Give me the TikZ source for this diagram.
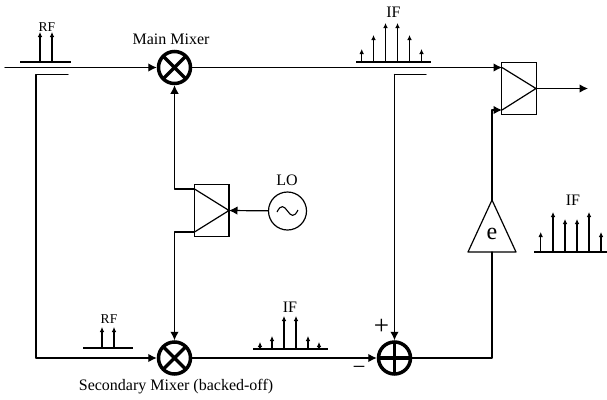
\documentclass[tikz,border=0pt]{standalone}
\usepackage{fontspec}
\setmainfont{Liberation Serif}
\usetikzlibrary{arrows.meta}
\tikzset{
  wire/.style={line width=1.2pt,line cap=round,line join=round},
  feed/.style={wire,-{Latex[length=8.5pt,width=8.5pt]}},
  tone/.style={line width=1.1pt,-{Latex[length=5pt,width=4.6pt]}},
  base/.style={line width=1.2pt},
  lbl/.style={inner sep=0pt,font=\fontsize{16}{16}\selectfont},
  lblsmall/.style={inner sep=0pt,font=\fontsize{13.5}{14}\selectfont},
  mixer/.style={circle,draw,line width=3.5pt,minimum size=32pt,inner sep=0pt,fill=white,
    path picture={\draw[line width=3.2pt] (path picture bounding box.north west)--(path picture bounding box.south east)
      (path picture bounding box.north east)--(path picture bounding box.south west);}},
  adder/.style={circle,draw,line width=3.5pt,minimum size=32pt,inner sep=0pt,fill=white,
    path picture={\draw[line width=3.2pt] (path picture bounding box.north)--(path picture bounding box.south)
      (path picture bounding box.east)--(path picture bounding box.west);}},
  ampbox/.style={rectangle,draw,line width=1.2pt,minimum width=34.5pt,minimum height=51.5pt,inner sep=0pt},
}
\begin{document}
\begin{tikzpicture}[x=1pt,y=-1pt]
\useasboundingbox (0,0) rectangle (607,399);
% coordinates
\coordinate (in) at (5,67.5);
\coordinate (splitA) at (68,74.5);
\coordinate (splitAc) at (36,74.5);
\coordinate (splitAd) at (36,358);
\coordinate (splitB) at (426,74.5);
\coordinate (splitBc) at (394.5,74.5);
% nodes
\node[mixer] (mixM) at (174.5,67.5) {};
\node[mixer] (mixS) at (174.5,358) {};
\node[adder] (sum) at (394.5,358) {};
\node[ampbox] (lobox) at (211.75,210.5) {};
\node[ampbox] (outbox) at (519,88.5) {};
\node[circle,draw,line width=1.2pt,minimum size=38pt,inner sep=0pt] (lo) at (287.5,211) {};
\coordinate (eTop) at (492,200);
\coordinate (eBot) at (492,252);
\draw[wire] (eTop)--(516,252)--(468,252)--cycle;
% triangles in the boxes
\coordinate (loA) at (194.5,189);
\coordinate (loB) at (194.5,232);
\coordinate (loC) at (229,210.5);
\coordinate (outA) at (502,67.5);
\coordinate (outB) at (502,110);
\coordinate (outC) at (536,88.5);
\coordinate (outEnd) at (588,88.5);
\draw[wire] (loA)--(loC)--(loB);
\draw[wire] (outA)--(outC)--(outB);
% connectors
\draw[feed] (in)--(mixM);
\draw[feed] (mixM)--(outA);
\draw[wire] (splitA)--(splitAc)--(splitAd);
\draw[feed] (splitAd)--(mixS);
\draw[wire] (splitB)--(splitBc);
\draw[feed] (splitBc)--(sum);
\draw[feed] (mixS)--(sum);
\draw[feed] (loA)-|(mixM);
\draw[feed] (loB)-|(mixS);
\draw[feed] (lo)--(loC);
\draw[feed] (outC)--(outEnd);
\draw[feed] (eTop)--(492,110)--(outB);
\draw[wire] (sum)-|(eBot);
% spectra
\draw[base] (20,62)--(71,62);
\foreach \x in {40,52} \draw[tone] (\x,62)--(\x,32);
\draw[base] (356,62)--(431,62);
\foreach \x/\t in {361.7/49,373.5/35,385.5/23,397.5/23,409.5/35,421.5/49} \draw[tone] (\x,62)--(\x,\t);
\draw[base] (83,348)--(133,348);
\foreach \x in {102,114} \draw[tone] (\x,348)--(\x,327);
\draw[base] (253,349)--(328,349);
\foreach \x/\t in {260/342,272/336,284/316,296/316,308/336,319/342} \draw[tone] (\x,349)--(\x,\t);
\draw[base] (534,252)--(607,252);
\foreach \x/\t in {540.7/232,553/212,565/219,577/219,589/212,601/232} \draw[tone] (\x,252)--(\x,\t);
% tilde
\draw[line width=1.1pt] (277,212) .. controls (281,204) and (284,206) .. (287.5,211) .. controls (291,216) and (294,218) .. (298,210);
% labels
\node[lblsmall] (t1) at (47,27) {RF};
\node[lbl] (t2) at (171,39) {Main Mixer};
\node[lbl] (t3) at (393.5,12.5) {IF};
\node[lbl] (t4) at (287,180) {LO};
\node[lbl] (t5) at (573,200) {IF};
\node[lblsmall] (t6) at (109,319) {RF};
\node[lbl] (t7) at (290,307) {IF};
\node[lbl] (t8) at (176,387) {Secondary Mixer (backed-off)};
\node[inner sep=0pt,font=\fontsize{24}{24}\selectfont] (t9) at (492,234) {e};
\node[inner sep=0pt,font=\fontsize{27}{27}\selectfont] (t10) at (381.5,327) {+};
\node[inner sep=0pt,font=\fontsize{23}{23}\selectfont] (t11) at (359,370) {−};
\end{tikzpicture}
\end{document}
